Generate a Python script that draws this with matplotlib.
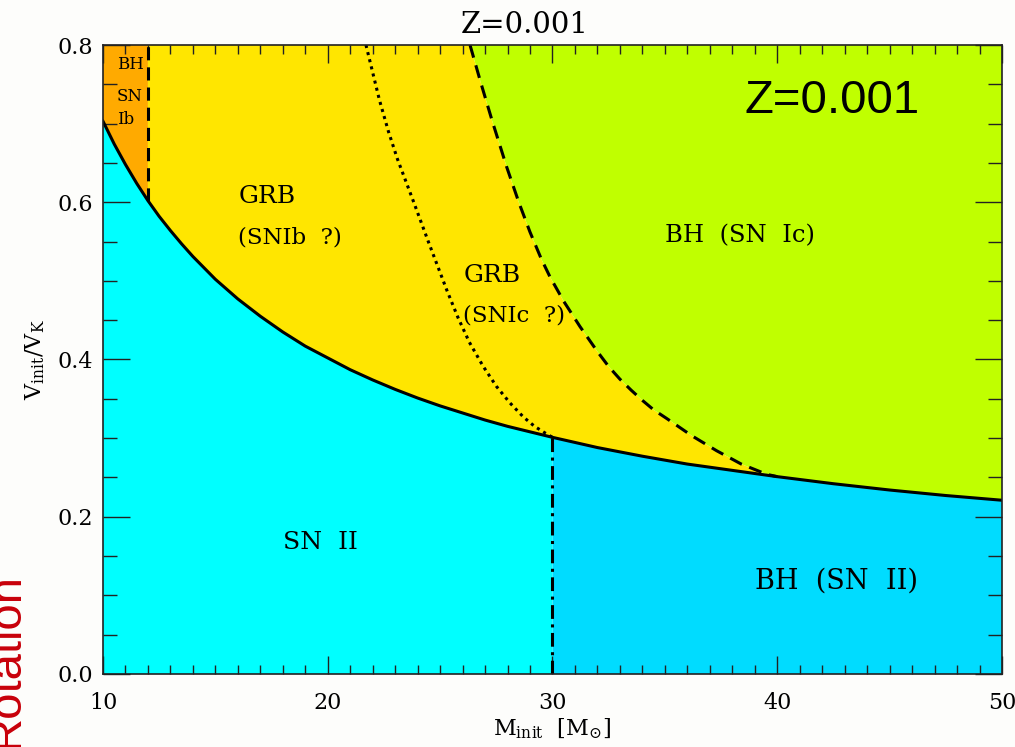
import matplotlib
matplotlib.use("Agg")
import matplotlib.pyplot as plt
from matplotlib.ticker import MultipleLocator, FormatStrFormatter

plt.rcParams['font.family'] = 'DejaVu Serif'
plt.rcParams['mathtext.fontset'] = 'dejavuserif'

# lower limit for GRB / BH without SN II (solid line)
m_low = [10, 10.5, 11, 11.5, 12, 12.5, 13, 13.5, 14, 15, 16, 17, 18, 19, 20, 21, 22, 23, 24,
         25, 26, 27, 28, 29, 30, 32, 34, 36, 38, 40, 42.5, 45, 47.5, 50]
v_low = [0.703, 0.674, 0.648, 0.624, 0.602, 0.582, 0.564, 0.547, 0.531, 0.502, 0.477, 0.455,
         0.435, 0.417, 0.402, 0.387, 0.374, 0.362, 0.351, 0.341, 0.332, 0.323, 0.315, 0.308,
         0.301, 0.288, 0.277, 0.267, 0.259, 0.251, 0.242, 0.234, 0.227, 0.221]

# SNIb / SNIc separation inside the GRB domain (dotted line)
m_dot = [21.7, 22.3, 22.7, 23.1, 23.8, 24.5, 25.3, 25.8, 26.3, 26.9, 27.5, 28.1, 28.7, 29.2,
         29.7, 30.0]
v_dot = [0.800, 0.730, 0.690, 0.655, 0.602, 0.548, 0.488, 0.453, 0.422, 0.392, 0.366, 0.345,
         0.327, 0.315, 0.306, 0.301]

# GRB / BH (SN Ic) limit (dashed line)
m_dash = [26.33, 26.8, 27.3, 27.96, 28.5, 29.0, 29.5, 29.89, 30.5, 31.22, 32.0, 32.5, 33.0,
          33.5, 34.0, 34.5, 35.08, 36.2, 37.3, 38.4, 39.53, 40.0]
v_dash = [0.800, 0.753, 0.705, 0.645, 0.600, 0.562, 0.528, 0.505, 0.474, 0.442, 0.410, 0.391,
          0.375, 0.361, 0.348, 0.336, 0.325, 0.303, 0.284, 0.267, 0.254, 0.251]

m_bh_ib = 12.0      # BH SN Ib / GRB limit
m_bh_ii = 30.0      # SN II / BH (SN II) limit
v_top = 0.8
m_min, m_max = 10, 50

c_orange = '#ffaa00'
c_yellow = '#ffe600'
c_green = '#c0ff00'
c_cyan = '#00ffff'
c_blue = '#00dcff'

fig = plt.figure(figsize=(10.15, 7.47), dpi=100, facecolor='#fdfdfb')
ax = fig.add_axes([103 / 1015, 73 / 747, 899 / 1015, 629 / 747])

# pieces of the solid line that bound each region
low_a = [(m, v) for m, v in zip(m_low, v_low) if m <= m_bh_ii]
low_b = [(m, v) for m, v in zip(m_low, v_low) if m >= m_bh_ii]
low_c = [(m, v) for m, v in zip(m_low, v_low) if m <= m_bh_ib]
low_d = [(m, v) for m, v in zip(m_low, v_low) if m_bh_ib <= m <= m_dash[-1]]
low_e = [(m, v) for m, v in zip(m_low, v_low) if m >= m_dash[-1]]

def poly(pts, color):
    xs = [p[0] for p in pts]
    ys = [p[1] for p in pts]
    ax.fill(xs, ys, color=color, lw=0, zorder=1)

poly([(m_min, 0)] + low_a + [(m_bh_ii, 0)], c_cyan)
poly([(m_bh_ii, 0)] + low_b + [(m_max, 0)], c_blue)
poly([(m_min, v_top)] + low_c + [(m_bh_ib, v_top)], c_orange)
poly([(m_bh_ib, v_top)] + low_d + list(zip(m_dash, v_dash))[::-1], c_yellow)
poly(list(zip(m_dash, v_dash)) + low_e + [(m_max, v_top)], c_green)

lw = 2.2
ax.plot(m_low, v_low, color='black', lw=lw, zorder=3)
ax.plot(m_dot, v_dot, color='black', lw=lw, ls=(0, (1, 1.4)), zorder=3)
ax.plot(m_dash, v_dash, color='black', lw=lw, ls=(0, (4.3, 2.6)), zorder=3)
ax.plot([m_bh_ib, m_bh_ib], [v_low[m_low.index(m_bh_ib)], v_top], color='black', lw=lw,
        ls=(0, (4.3, 2.3)), zorder=3)
ax.plot([m_bh_ii, m_bh_ii], [0, v_low[m_low.index(m_bh_ii)]], color='black', lw=lw,
        ls=(0, (4.5, 1.8, 1, 1.8)), zorder=3)

# region labels
ax.text(10.61, 0.770, 'BH', fontsize=12, va='baseline', zorder=4)
ax.text(10.61, 0.729, 'SN', fontsize=12, va='baseline', zorder=4)
ax.text(10.61, 0.700, 'Ib', fontsize=12, va='baseline', zorder=4)
ax.text(16.02, 0.599, 'GRB', fontsize=18, va='baseline', zorder=4)
ax.text(16.02, 0.548, '(SNIb  ?)', fontsize=16.5, va='baseline', zorder=4)
ax.text(26.03, 0.499, 'GRB', fontsize=18, va='baseline', zorder=4)
ax.text(26.03, 0.448, '(SNIc  ?)', fontsize=16.5, va='baseline', zorder=4)
ax.text(35.0, 0.549, 'BH  (SN  Ic)', fontsize=17.5, va='baseline', zorder=4)
ax.text(18.01, 0.159, 'SN  II', fontsize=18, va='baseline', zorder=4)
ax.text(39.01, 0.109, 'BH  (SN  II)', fontsize=19.5, va='baseline', zorder=4)
ax.text(42.42, 0.714, 'Z=0.001', fontsize=34, family='Liberation Sans', ha='center',
        va='baseline', zorder=4)

ax.set_xlim(m_min, m_max)
ax.set_ylim(0, v_top)
ax.xaxis.set_major_locator(MultipleLocator(10))
ax.xaxis.set_minor_locator(MultipleLocator(1))
ax.yaxis.set_major_locator(MultipleLocator(0.2))
ax.yaxis.set_minor_locator(MultipleLocator(0.05))
ax.yaxis.set_major_formatter(FormatStrFormatter('%.1f'))
ax.tick_params(axis='both', which='both', direction='in', top=True, right=True,
               width=1.0, color='#222222', labelsize=16)
ax.tick_params(axis='x', which='major', length=13, pad=13)
ax.tick_params(axis='x', which='minor', length=6.5)
ax.tick_params(axis='y', which='major', length=19.5, pad=7)
ax.tick_params(axis='y', which='minor', length=10)
for t in ax.get_xticklines() + ax.get_yticklines():
    t.set_zorder(5)
for s in ax.spines.values():
    s.set_linewidth(1.2)
    s.set_color('#222222')
    s.set_zorder(6)

ax.set_xlabel(r'$\mathrm{M_{init}}\ \ [\mathrm{M_{\odot}}]$', fontsize=16, labelpad=2)
ax.set_ylabel(r'$\mathrm{V_{init}/V_K}$', fontsize=16, labelpad=8)
fig.text(525 / 1015, 1 - 33 / 747, 'Z=0.001', fontsize=21, ha='center', va='baseline')

fig.text(18 / 1015, 1 - 573 / 747, 'Rotation', fontsize=34, family='Liberation Sans',
         color='#c8000a', rotation=90, rotation_mode='anchor', ha='right', va='baseline')

fig.savefig('out.png', dpi=100, facecolor=fig.get_facecolor())
